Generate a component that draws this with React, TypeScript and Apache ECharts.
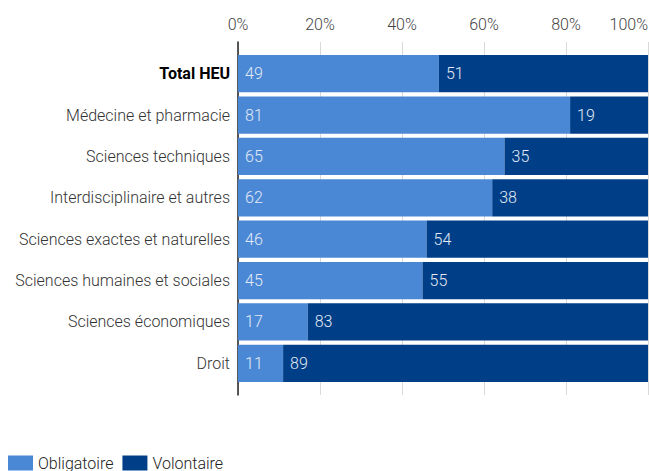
import React, { useEffect, useRef } from "react";
import * as echarts from "echarts";

const categories = [
  "Total HEU",
  "Médecine et pharmacie",
  "Sciences techniques",
  "Interdisciplinaire et autres",
  "Sciences exactes et naturelles",
  "Sciences humaines et sociales",
  "Sciences économiques",
  "Droit",
];
const obligatoire = [49, 81, 65, 62, 46, 45, 17, 11];
const volontaire = [51, 19, 35, 38, 54, 55, 83, 89];
const seriesNames = ["Obligatoire", "Volontaire"];
const colors = ["#4a88d6", "#003f87"];

export default function App() {
  const ref = useRef<HTMLDivElement>(null);
  useEffect(() => {
    const chart = echarts.init(ref.current!, null, { renderer: "svg" });
    const font = "Roboto";
    const labelStyle = {
      show: true,
      position: "insideLeft" as const,
      distance: 7,
      color: "#e3eaf5",
      fontFamily: font,
      fontWeight: 300,
      fontSize: 16,
      formatter: (p: any) => String(p.value),
    };
    chart.setOption({
      animation: false,
      textStyle: { fontFamily: font },
      legend: {
        left: 8,
        top: 455,
        padding: 0,
        itemWidth: 25,
        itemHeight: 15,
        itemGap: 9,
        icon: "rect",
        data: seriesNames,
        textStyle: { fontFamily: font, fontWeight: 300, fontSize: 16, lineHeight: 14, color: "#222" },
      },
      grid: [
        { left: 238, right: 1, top: 42, height: 353, containLabel: false, outerBoundsMode: "none" },
        { left: 238, right: 1, top: 53, height: 331, containLabel: false, outerBoundsMode: "none" },
      ],
      xAxis: [
        {
          gridIndex: 0,
          type: "value",
          position: "top",
          min: 0,
          max: 100,
          interval: 20,
          axisLine: { show: false },
          axisTick: { show: false },
          axisLabel: {
            formatter: "{value}%",
            color: "#444",
            fontFamily: font,
            fontWeight: 300,
            fontSize: 16,
            margin: 10,
            alignMaxLabel: "right",
          },
          splitLine: { show: true, lineStyle: { color: "#d9d9d9", width: 1 } },
        },
        {
          gridIndex: 1,
          type: "value",
          min: 0,
          max: 100,
          show: false,
        },
      ],
      yAxis: [
        {
          gridIndex: 0,
          type: "category",
          data: [""],
          axisLine: { show: true, lineStyle: { color: "#222", width: 1.5 } },
          axisTick: { show: false },
          axisLabel: { show: false },
        },
        {
          gridIndex: 1,
          type: "category",
          inverse: true,
          data: categories,
          axisLine: { show: false },
          axisTick: { show: false },
          axisLabel: {
            margin: 8,
            fontFamily: font,
            fontSize: 16,
            color: "#333",
            fontWeight: 300,
            formatter: (v: string) => (v === "Total HEU" ? "{b|" + v + "}" : v),
            rich: {
              b: { fontFamily: font, fontSize: 16, fontWeight: "bold", color: "#000" },
            },
          },
        },
      ],
      series: [
        {
          name: seriesNames[0],
          type: "bar",
          stack: "total",
          xAxisIndex: 1,
          yAxisIndex: 1,
          data: obligatoire,
          barCategoryGap: "10%",
          itemStyle: { color: colors[0] },
          label: labelStyle,
        },
        {
          name: seriesNames[1],
          type: "bar",
          stack: "total",
          xAxisIndex: 1,
          yAxisIndex: 1,
          data: volontaire,
          barCategoryGap: "10%",
          itemStyle: { color: colors[1] },
          label: labelStyle,
        },
      ],
    });
    return () => chart.dispose();
  }, []);
  return <div ref={ref} style={{ width: 649, height: 471, position: "absolute", left: 0, top: 0 }} />;
}
